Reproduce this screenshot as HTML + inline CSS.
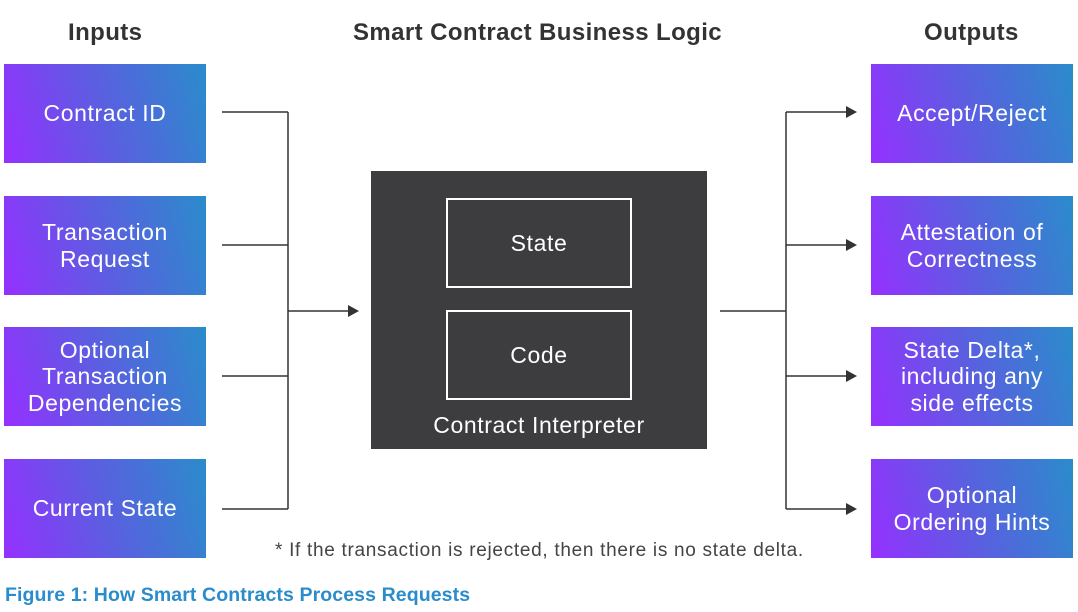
<!DOCTYPE html>
<html><head><style>
body{margin:0;width:1078px;height:612px;background:#fff;font-family:"Liberation Sans",sans-serif;position:relative;overflow:hidden}
.b{position:absolute;width:202px;height:99px;background:linear-gradient(75deg,#9530ff 0%,#5a5fe0 50%,#2a8ccb 100%);color:#fff;font-size:23px;letter-spacing:0.6px;line-height:26.5px;display:flex;align-items:center;justify-content:center;text-align:center}
.h{position:absolute;font-weight:bold;font-size:24px;letter-spacing:0.4px;color:#333;top:19px}
.t{position:absolute;color:#fff;font-size:23px;letter-spacing:0.6px;text-align:center}
</style></head><body>
<div class="h" style="left:68px">Inputs</div>
<div class="h" style="left:353px">Smart Contract Business Logic</div>
<div class="h" style="left:924px">Outputs</div>
<div class="b" style="left:4px;top:64px">Contract ID</div>
<div class="b" style="left:4px;top:196px">Transaction<br>Request</div>
<div class="b" style="left:4px;top:327px">Optional<br>Transaction<br>Dependencies</div>
<div class="b" style="left:4px;top:459px">Current State</div>
<div class="b" style="left:871px;top:64px">Accept/Reject</div>
<div class="b" style="left:871px;top:196px">Attestation of<br>Correctness</div>
<div class="b" style="left:871px;top:327px">State Delta*,<br>including any<br>side effects</div>
<div class="b" style="left:871px;top:459px">Optional<br>Ordering Hints</div>
<div style="position:absolute;left:371px;top:171px;width:336px;height:278px;background:#3d3d3f"></div>
<div style="position:absolute;left:446px;top:198px;width:182px;height:86px;border:2px solid #fff;color:#fff;font-size:23px;letter-spacing:0.6px;display:flex;align-items:center;justify-content:center">State</div>
<div style="position:absolute;left:446px;top:310px;width:182px;height:86px;border:2px solid #fff;color:#fff;font-size:23px;letter-spacing:0.6px;display:flex;align-items:center;justify-content:center">Code</div>
<div class="t" style="left:371px;width:336px;top:412px">Contract Interpreter</div>
<svg width="1078" height="612" style="position:absolute;left:0;top:0" fill="none" stroke="#333" stroke-width="1.5">
<path d="M222 112H288M222 245H288M222 376H288M222 509H288M288 112V509M288 311H350"/>
<path d="M720 311H786M786 112V509M786 112H848M786 245H848M786 376H848M786 509H848"/>
<g fill="#333" stroke="none">
<path d="M348 305L359 311L348 317Z"/>
<path d="M846 106L857 112L846 118Z"/><path d="M846 239L857 245L846 251Z"/><path d="M846 370L857 376L846 382Z"/><path d="M846 503L857 509L846 515Z"/>
</g></svg>
<div style="position:absolute;left:275px;top:540px;font-size:19px;letter-spacing:0.7px;color:#444">* If the transaction is rejected, then there is no state delta.</div>
<div style="position:absolute;left:5px;top:584px;font-size:19.5px;letter-spacing:0.1px;font-weight:bold;color:#2b8ccc">Figure 1: How Smart Contracts Process Requests</div>
</body></html>
